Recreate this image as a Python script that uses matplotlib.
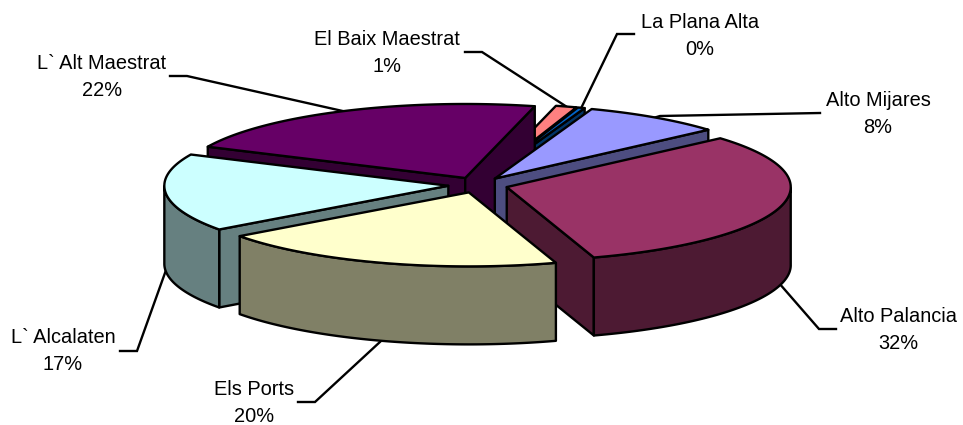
import numpy as np
import matplotlib
matplotlib.use("Agg")
import matplotlib.pyplot as plt
from matplotlib.patches import Polygon

# comarca shares, clockwise from the first slice
names = ["La Plana Alta", "Alto Mijares", "Alto Palancia", "Els Ports",
         "L` Alcalaten", "L` Alt Maestrat", "El Baix Maestrat"]
values = [0.4, 8.0, 31.5, 19.9, 17.0, 22.0, 1.2]
top_colors = ["#0066CC", "#9999FF", "#993366", "#FFFFCC", "#CCFFFF", "#660066", "#FF8080"]
side_colors = ["#003366", "#4D4D80", "#4D1A33", "#808066", "#668080", "#330033", "#804040"]

# pie geometry, in pixels
cx, cy = 478, 185
rx, ry = 284, 74
depth = 78
explode = 0.105
first_angle = 71.5

# label centre and leader elbow / end per slice
label_pos = [(700, 36), (878, 114), (898, 330), (254, 403), (63, 351), (102, 77), (387, 53)]
elbows = [(617, 34), (660, 116), (819, 329), (315, 402), (137, 351), (187, 76), (482, 52)]
ends = [(634, 34), (820, 113), (836, 329), (298, 402), (120, 351), (170, 76), (465, 52)]

plt.rcParams["font.family"] = "Liberation Sans"
fig = plt.figure(figsize=(9.63, 4.25), dpi=100)
ax = fig.add_axes([0, 0, 1, 1])
ax.set_xlim(0, 963)
ax.set_ylim(425, 0)
ax.axis("off")

shares = np.array(values) / sum(values) * 360
stops = first_angle - np.concatenate([[0], np.cumsum(shares)])


def rim(t, ox, oy):
    a = np.radians(t)
    return np.column_stack([ox + rx * np.cos(a), oy - ry * np.sin(a)])


def patch(pts, color, z):
    ax.add_patch(Polygon(pts, closed=True, facecolor=color, edgecolor="black",
                         linewidth=1.7, joinstyle="round", zorder=z))


mids = (stops[:-1] + stops[1:]) / 2
order = np.argsort(-np.sin(np.radians(mids)))

for z, i in enumerate(order):
    t1, t2, mid = stops[i], stops[i + 1], mids[i]
    m = np.radians(mid)
    ox = cx + explode * rx * np.cos(m)
    oy = cy - explode * ry * np.sin(m)
    apex = np.array([[ox, oy]])
    down = np.array([0, depth])
    ts = np.linspace(t1, t2, 120)
    edge = rim(ts, ox, oy)

    # cut faces that look towards the viewer
    if np.cos(np.radians(t1)) < 0:
        r = rim(np.array([t1]), ox, oy)
        patch(np.vstack([apex, r, r + down, apex + down]), side_colors[i], z)
    if np.cos(np.radians(t2)) > 0:
        r = rim(np.array([t2]), ox, oy)
        patch(np.vstack([apex, r, r + down, apex + down]), side_colors[i], z)

    # outer wall, only the front half of the rim
    front = edge[np.sin(np.radians(ts)) < 0]
    if len(front) > 1:
        patch(np.vstack([front, (front + down)[::-1]]), side_colors[i], z)

    patch(np.vstack([apex, edge]), top_colors[i], z)

# leaders and labels
for i, name in enumerate(names):
    m = np.radians(mids[i])
    x0 = cx + (1 + explode) * rx * np.cos(m)
    y0 = cy - (1 + explode) * ry * np.sin(m)
    if np.sin(m) < 0:
        y0 += depth
    ax.plot([x0, elbows[i][0], ends[i][0]], [y0, elbows[i][1], ends[i][1]],
            color="black", lw=1.7, zorder=-1, solid_joinstyle="miter")
    ax.text(label_pos[i][0], label_pos[i][1], f"{name}\n{round(values[i])}%",
            ha="center", va="center", fontsize=14.4, color="black",
            linespacing=1.58, zorder=20)

fig.savefig("out.png", dpi=100)
